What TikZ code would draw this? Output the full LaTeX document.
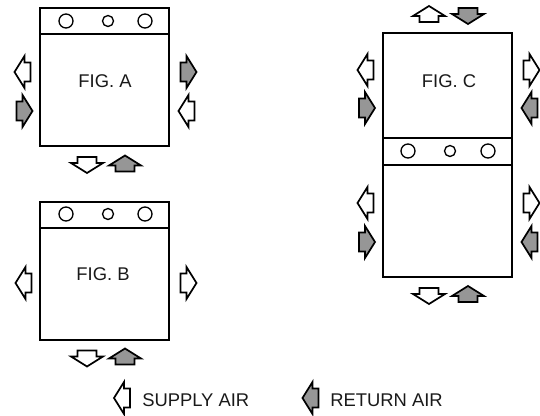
\documentclass[tikz,border=0pt]{standalone}
\usepackage{fontspec}
\setmainfont{Liberation Sans}
\usepackage{tikz}
\definecolor{returngray}{HTML}{969696}
\begin{document}
\begin{tikzpicture}[
  x=0.75pt, y=-0.75pt,
  cabinet/.style={line width=1.6pt, black},
  divider/.style={line width=1.1pt, black},
  burner/.style={line width=1pt, black},
  supply/.style={draw=black, line width=1.3pt, fill=white},
  return/.style={draw=black, line width=1.3pt, fill=returngray},
  label/.style={font=\fontsize{13.8}{16}\selectfont, text=black!90, inner sep=0pt},
  airarrow/.pic={
    \path[pic actions] (-8,9.5) -- (-2,9.5) -- (-2,16) -- (8,0) -- (-2,-16) -- (-2,-9.5) -- (-8,-9.5) -- cycle;
  },
]
  \useasboundingbox (0,0) rectangle (540,415);

  %% Cabinets
  \draw[cabinet] (40,8) rectangle (169,146);
  \draw[divider] (40,34) -- (169,34);
  \draw[cabinet] (40,202) rectangle (169,340);
  \draw[divider] (40,228) -- (169,228);
  \draw[cabinet] (383,33) rectangle (512,277);
  \draw[divider] (383,138) -- (512,138);
  \draw[divider] (383,165) -- (512,165);

  %% Burners
  \foreach \x/\y/\r in {66/21/7, 108/21/5.5, 145/21/7,
                        66/214/7, 108/214/5.5, 145/214/7,
                        408/151/7, 450/151/5.5, 488/151/7} {
    \draw[burner] (\x,\y) circle (\r);
  }

  %% Supply air
  \foreach \x/\y/\a in {22.5/72/180, 186.5/111/180, 87/165/-90,
                        23.5/283/180, 188.5/283/0, 87/358.5/-90,
                        429/14/90, 365.5/70/180, 531.5/70/0,
                        365.5/203/180, 531.5/203/0, 429/296/-90,
                        122/398/180} {
    \pic[supply, rotate=\a] at (\x,\y) {airarrow};
  }

  %% Return air
  \foreach \x/\y/\a in {24.5/111/0, 188.5/72/0, 125/163.5/90,
                        125/356.5/90,
                        468/16/-90, 367/108/0, 529.5/108/180,
                        367/242/0, 529.5/242/180, 468/294/90,
                        310.5/398/180} {
    \pic[return, rotate=\a] at (\x,\y) {airarrow};
  }

  %% Labels
  \node[label] (figa) at (105,81) {FIG. A};
  \node[label] (figb) at (103,274) {FIG. B};
  \node[label] (figc) at (449,81) {FIG. C};
  \node[label, anchor=west] (supplyair) at (142,400) {SUPPLY AIR};
  \node[label, anchor=west] (returnair) at (330,400) {RETURN AIR};
\end{tikzpicture}
\end{document}
